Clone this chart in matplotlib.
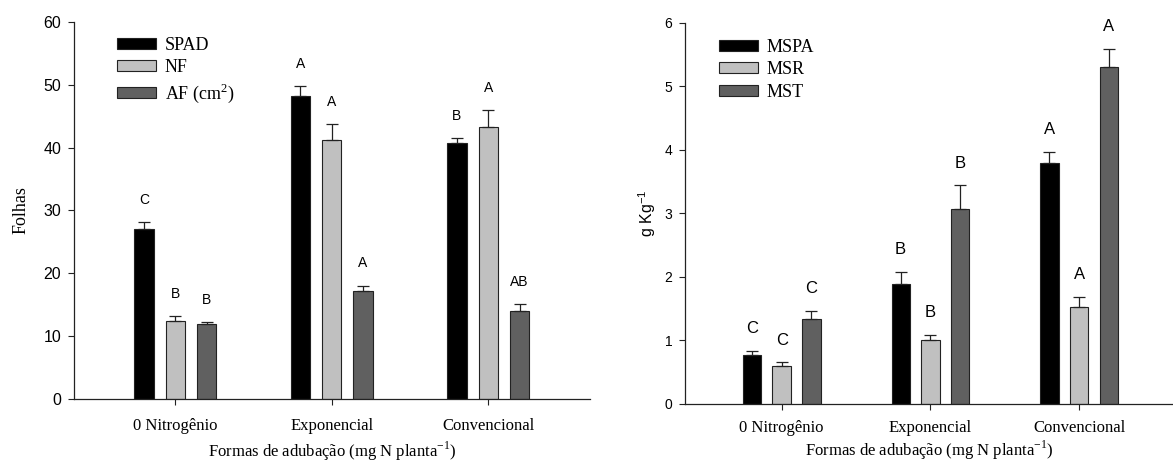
# plot.py
#   two grouped bar panels: leaf traits and dry mass by fertilisation form

import numpy as np
import matplotlib
matplotlib.use("Agg")
import matplotlib.pyplot as plt

# data
grupos = ["0 Nitrogênio", "Exponencial", "Convencional"]

spad = [27.1, 48.2, 40.7]
spad_err = [1.1, 1.6, 0.8]
nf = [12.3, 41.3, 43.3]
nf_err = [0.9, 2.5, 2.7]
af = [11.9, 17.2, 14.0]
af_err = [0.3, 0.8, 1.1]
letras_esq = [["C", "A", "B"], ["B", "A", "A"], ["B", "A", "AB"]]

mspa = [0.76, 1.88, 3.79]
mspa_err = [0.07, 0.20, 0.18]
msr = [0.59, 1.00, 1.53]
msr_err = [0.06, 0.09, 0.15]
mst = [1.34, 3.07, 5.31]
mst_err = [0.12, 0.37, 0.28]
letras_dir = [["C", "B", "A"], ["C", "B", "A"], ["C", "B", "A"]]

cores = ["#000000", "#c0c0c0", "#606060"]
SERIF = "Liberation Serif"
SANS = "Liberation Sans"


def painel(ax, series, erros, nomes, letras, ylim, yticks, ylab, ylab_font, ylab_size,
           ylabpad, letra_size, tick_size, xpad, xlabpad, leg_xy, xmax):
    x = np.arange(len(grupos))
    w = 0.123
    off = 0.2
    for i, (vals, errs, nome) in enumerate(zip(series, erros, nomes)):
        pos = x + (i - 1) * off
        ax.bar(pos, vals, w, color=cores[i], edgecolor="#222222", linewidth=0.8,
               label=nome, zorder=2)
        ax.errorbar(pos, vals, yerr=[np.zeros(len(vals)), errs], fmt="none",
                    ecolor="#222222", elinewidth=0.9, capsize=4.5, capthick=0.9, zorder=3)
        for p, v, e, l in zip(pos, vals, errs, letras[i]):
            ax.annotate(l, (p, v + e), xytext=(0, 16), textcoords="offset points",
                        ha="center", va="center", fontsize=letra_size, family=SANS)
    ax.set_xlim(-0.65, xmax)
    ax.set_ylim(*ylim)
    ax.set_yticks(yticks)
    ax.set_xticks(x)
    ax.set_xticklabels(grupos, family=SERIF, fontsize=12)
    for t in ax.get_yticklabels():
        t.set_family(SANS)
        t.set_fontsize(tick_size)
    ax.spines["top"].set_visible(False)
    ax.spines["right"].set_visible(False)
    for s in ("left", "bottom"):
        ax.spines[s].set_color("#222222")
        ax.spines[s].set_linewidth(0.9)
    ax.tick_params(axis="x", length=4, pad=xpad, color="#222222")
    ax.tick_params(axis="y", length=4, pad=5, color="#222222")
    ax.set_xlabel("Formas de adubação (mg N planta$^{\\mathregular{-1}}$)",
                  family=SERIF, fontsize=12, labelpad=xlabpad)
    ax.set_ylabel(ylab, family=ylab_font, fontsize=ylab_size, labelpad=ylabpad)
    ax.legend(loc="upper left", bbox_to_anchor=leg_xy, frameon=False, borderpad=0,
              borderaxespad=0, prop={"family": SERIF, "size": 13}, handlelength=2.15,
              handleheight=0.58, labelspacing=0.3, handletextpad=0.5)


fig = plt.figure(figsize=(11.73, 4.63), dpi=100)
ax1 = fig.add_axes([0.0627, 0.139, 0.4403, 0.813])
ax2 = fig.add_axes([0.5839, 0.128, 0.4161, 0.823])

painel(ax1, [spad, nf, af], [spad_err, nf_err, af_err],
       ["SPAD", "NF", "AF (cm$^{\\mathregular{2}}$)"], letras_esq,
       (0, 60), range(0, 61, 10), "Folhas", SERIF, 13, 10, 10, 11.5, 10, 4,
       (0.084, 0.962), 2.65)
painel(ax2, [mspa, msr, mst], [mspa_err, msr_err, mst_err],
       ["MSPA", "MSR", "MST"], letras_dir,
       (0, 6), range(0, 7), "g Kg$^{\\mathregular{-1}}$", SANS, 11.5, 5, 12, 10, 8, 2,
       (0.07, 0.958), 2.63)

fig.savefig("out.png", dpi=100)
